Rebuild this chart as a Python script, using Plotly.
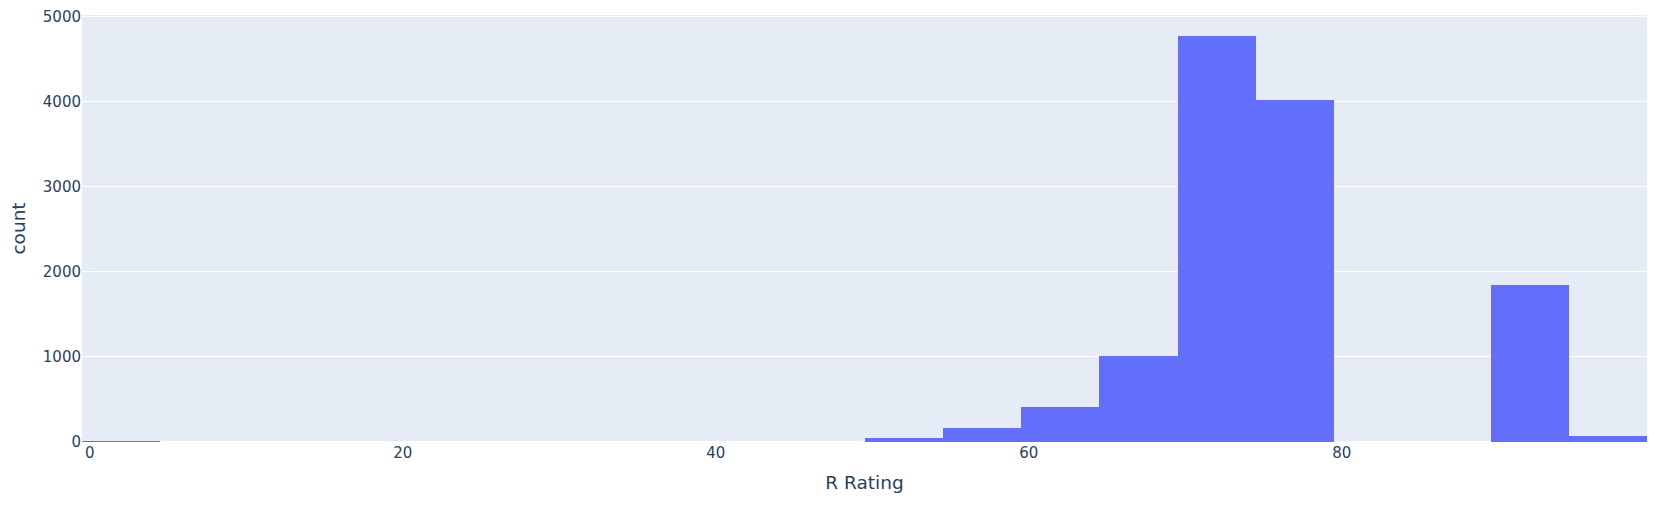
import plotly.graph_objects as go

# Histogram bins (bin width 5, starting at -0.5) and their counts
bin_centers = [2, 52, 57, 62, 67, 72, 77, 92, 97]
counts = [10, 43, 159, 407, 1015, 4767, 4011, 1847, 66]

fig = go.Figure(
    go.Histogram(
        x=bin_centers,
        y=counts,
        histfunc="sum",
        xbins=dict(start=-0.5, end=99.5, size=5),
        marker_color="#636efa",
    )
)
fig.update_layout(
    template="plotly",
    margin=dict(l=74, r=0, t=0, b=58),
    font=dict(family="DejaVu Sans, Verdana, sans-serif", size=15, color="#2a3f5f"),
    xaxis=dict(title=dict(text="R Rating", font=dict(size=18.5)), range=[-0.5, 99.5]),
    yaxis=dict(title=dict(text="count", font=dict(size=18.5)), range=[0, 5015],
               ticklabeloverflow="allow"),
    bargap=0,
    showlegend=False,
)
fig.write_html("out.html")
